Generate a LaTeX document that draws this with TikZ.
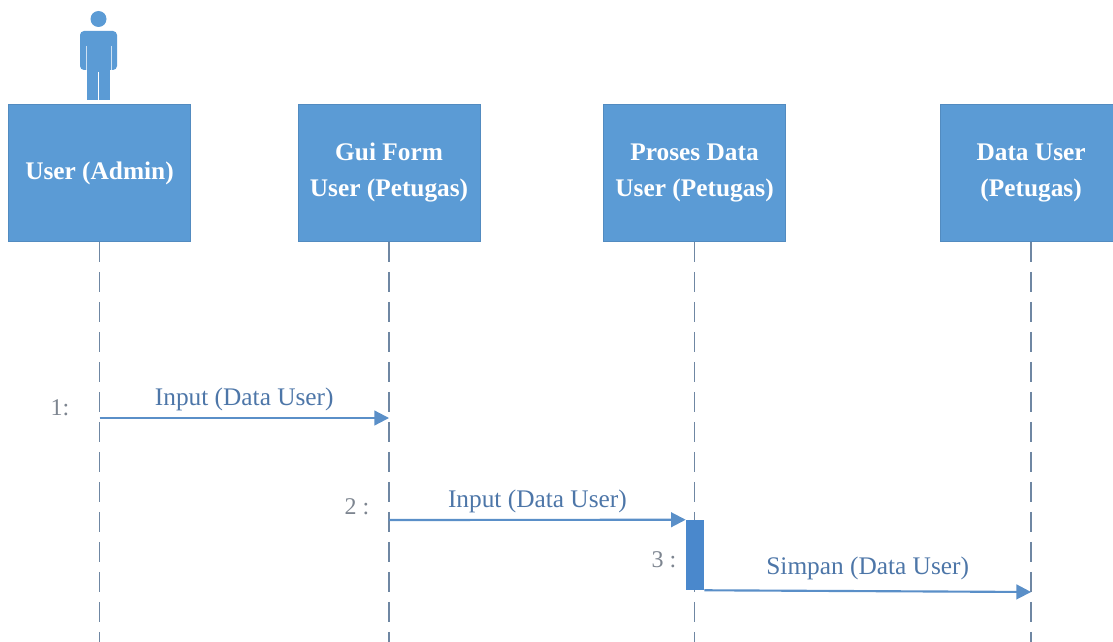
\documentclass[tikz,border=0pt]{standalone}
\usepackage{fontspec}
\setmainfont{Liberation Serif}
\usepackage{tikz}
\usepackage{xcolor}
\usetikzlibrary{arrows.meta,positioning}

\definecolor{boxblue}{HTML}{5B9BD5}
\definecolor{actblue}{HTML}{4A88CC}
\definecolor{lineblue}{HTML}{5A8FC8}
\definecolor{labelblue}{HTML}{4D76A8}
\definecolor{numgray}{HTML}{7D8590}
\definecolor{lifegray}{HTML}{6F87A3}

\begin{document}
\begin{tikzpicture}[
    x=0.75pt, y=-0.75pt,
    obj/.style={rectangle, fill=boxblue, draw=boxblue!90!black, line width=0.4pt, minimum width=136.5pt, minimum height=103pt, align=center, text=white, font=\fontsize{19}{27}\selectfont\bfseries},
    act/.style={rectangle, fill=actblue, minimum width=13.5pt, minimum height=52.5pt, inner sep=0pt},
    lifeline/.style={draw=lifegray, line width=1.1pt, dash pattern=on 15pt off 7.5pt},
    msg/.style={-{Triangle[length=11pt,width=11pt]}, draw=lineblue, line width=1.6pt},
    lbl/.style={text=labelblue, font=\fontsize{19}{22}\selectfont},
    num/.style={text=numgray, font=\fontsize{18}{22}\selectfont}
]
    \useasboundingbox (0,0) rectangle (1113,642);

    % actor
    \fill[boxblue] (98.5,19) circle[radius=6pt];
    \fill[boxblue, rounded corners=3pt] (80,31) rectangle (117,70);
    \fill[boxblue] (87,62) rectangle (110,100);
    \draw[white, line width=0.8pt] (98.5,72) -- (98.5,100);
    \draw[white!70!boxblue, line width=0.6pt] (86,46) -- (86,70) (111,46) -- (111,70);

    % objects
    \node[obj] (user) at (99.5,173) {User (Admin)};
    \node[obj, right=80.25pt of user] (gui) {Gui Form\\User (Petugas)};
    \node[obj, right=92.25pt of gui] (proses) {Proses Data\\User (Petugas)};
    \node[obj, right=115.5pt of proses] (data) {Data User\\(Petugas)};

    % lifelines
    \coordinate (bottom) at (0,642);
    \foreach \o in {user,gui,proses,data}
        \draw[lifeline] (\o.south) -- (\o.south |- bottom);

    \coordinate (y1) at (0,418);
    \coordinate (y2) at (0,520);
    \coordinate (y3) at (0,592);
    \node[act] (bar) at (695,555) {};

    % messages
    \draw[msg] (user.south |- y1) -- node[lbl, above=1pt] (m1) {Input (Data User)} (gui.south |- y1);
    \draw[msg] (gui.south |- y2) -- node[lbl, above=1pt] (m2) {Input (Data User)} (bar.north west);
    \draw[msg] (bar.south east) -- node[lbl, above=4pt] (m3) {Simpan (Data User)} (data.south |- y3);

    \node[num] (n1) at (60,408) {1:};
    \node[num] (n2) at (357,507) {2 :};
    \node[num] (n3) at (664,560) {3 :};
\end{tikzpicture}
\end{document}
